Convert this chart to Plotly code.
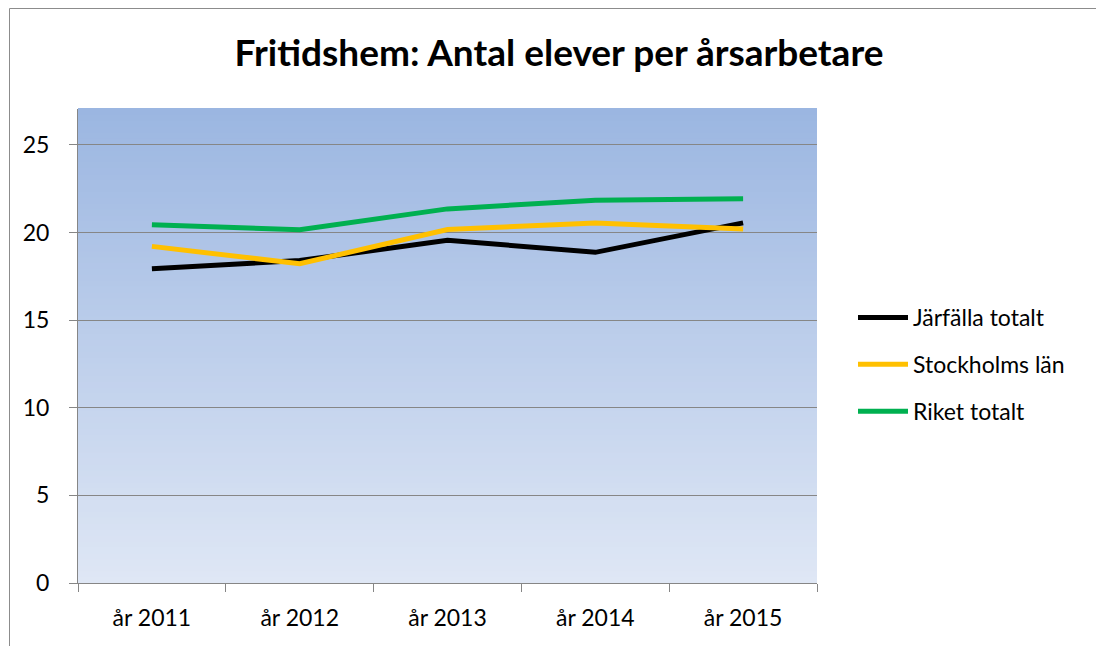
import plotly.graph_objects as go

categories = ["år 2011", "år 2012", "år 2013", "år 2014", "år 2015"]
jarfalla = [17.94, 18.4, 19.56, 18.87, 20.55]
stockholm = [19.21, 18.22, 20.17, 20.55, 20.2]
riket = [20.45, 20.16, 21.35, 21.84, 21.93]
series_names = ["Järfälla totalt", "Stockholms län", "Riket totalt"]
series_colors = ["#000000", "#FFC000", "#00B050"]
y_ticks = [0, 5, 10, 15, 20, 25]

# page has an 8px body margin; figure coords = page coords - 8
W, H = 1104, 646
L, T = 70, 101
RIGHT, BOTTOM = 809, 575
R, B = W - RIGHT, H - BOTTOM
pw, ph = RIGHT - L, BOTTOM - T

fig = go.Figure()
for name, vals, col in zip(series_names, [jarfalla, stockholm, riket], series_colors):
    fig.add_trace(go.Scatter(x=categories, y=vals, name=name, mode="lines",
                             line=dict(color=col, width=5), legendgroup=name))

# gradient background
shapes = []
n = 80
top = (155, 182, 225)
bot = (223, 231, 245)
for i in range(n):
    f = (i + 0.5) / n
    c = tuple(round(bot[k] + (top[k] - bot[k]) * f) for k in range(3))
    shapes.append(dict(type="rect", xref="paper", yref="paper", x0=0, x1=1,
                       y0=i / n, y1=(i + 1) / n + 0.002, layer="below",
                       line=dict(width=0), fillcolor="rgb(%d,%d,%d)" % c))

def px(x):
    return (x - L) / pw

def py(y):
    return (BOTTOM - y) / ph

# outer border (top and left)
shapes.append(dict(type="line", xref="paper", yref="paper", x0=px(1.5), x1=px(1200),
                   y0=py(0.5), y1=py(0.5), line=dict(color="#8c8c8c", width=1)))
shapes.append(dict(type="line", xref="paper", yref="paper", x0=px(1.5), x1=px(1.5),
                   y0=py(0.5), y1=py(700), line=dict(color="#8c8c8c", width=1)))

fig.update_layout(
    width=W, height=H,
    margin=dict(l=L, r=R, t=T, b=B),
    paper_bgcolor="white",
    plot_bgcolor="rgba(0,0,0,0)",
    font=dict(family="Lato, sans-serif", size=23, color="black"),
    title=dict(text="<b>Fritidshem: Antal elever per årsarbetare</b>",
               x=551 / W, xanchor="center", y=1 - 45 / H, yanchor="middle",
               font=dict(size=37, family="Lato, sans-serif")),
    shapes=shapes,
    showlegend=True,
    legend=dict(x=px(845), y=py(288), xanchor="left", yanchor="top",
                bgcolor="rgba(0,0,0,0)", tracegroupgap=14,
                font=dict(size=23), itemwidth=50),
    xaxis=dict(type="category", showgrid=False, showline=True, linecolor="#868686",
               linewidth=1, ticks="outside", tickson="boundaries", ticklen=8,
               tickcolor="#868686", range=[-0.5, 4.5], ticklabelstandoff=14),
    yaxis=dict(range=[0, 27.05], tickvals=y_ticks, showgrid=True, gridcolor="#868686",
               gridwidth=1, showline=True, linecolor="#868686", linewidth=1,
               ticks="outside", ticklen=8, tickcolor="#868686", zeroline=False,
               ticklabelstandoff=15),
)

fig.write_html("out.html")
